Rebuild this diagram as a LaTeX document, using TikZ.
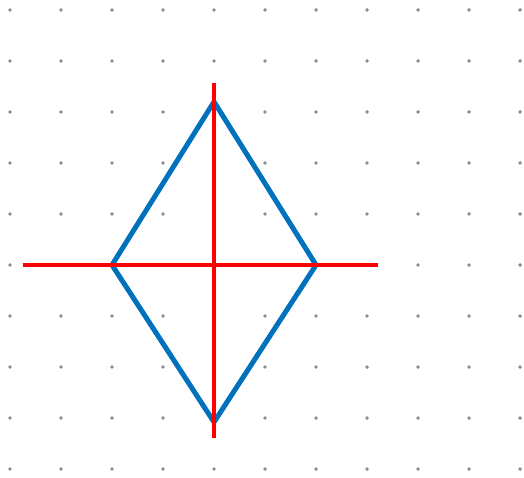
\documentclass[tikz,border=0pt]{standalone}
\usepackage{xcolor}
\usepackage{tikz}
\definecolor{rhombblue}{RGB}{0,114,189}

\begin{document}
\begin{tikzpicture}[
    x=1cm, y=1cm,
    griddot/.style={fill=gray!90, draw=none},
    rhomb/.style={draw=rhombblue, line width=2.8pt, line join=miter},
    axis/.style={draw=red, line width=2.2pt}
]
\useasboundingbox (-0.196, -0.157) rectangle (10.078, 9.196);

% Dot grid
\foreach \i in {0,...,10} {
    \foreach \j in {0,...,9} {
        \fill[griddot] (\i, \j) circle (1.1pt);
    }
}

% Vertices
\coordinate (top) at (4, 7.2);
\coordinate (bot) at (4, 0.92);
\coordinate (lft) at (2, 4);
\coordinate (rgt) at (6, 4);

% Rhombus
\draw[rhomb] (top) -- (rgt) -- (bot) -- (lft) -- cycle;

% Diagonals
\coordinate (vtop) at (4, 7.57);
\coordinate (vbot) at (4, 0.61);
\coordinate (hlft) at (0.25, 4);
\coordinate (hrgt) at (7.22, 4);
\draw[axis] (vtop) -- (vbot);
\draw[axis] (hlft) -- (hrgt);

\end{tikzpicture}
\end{document}
